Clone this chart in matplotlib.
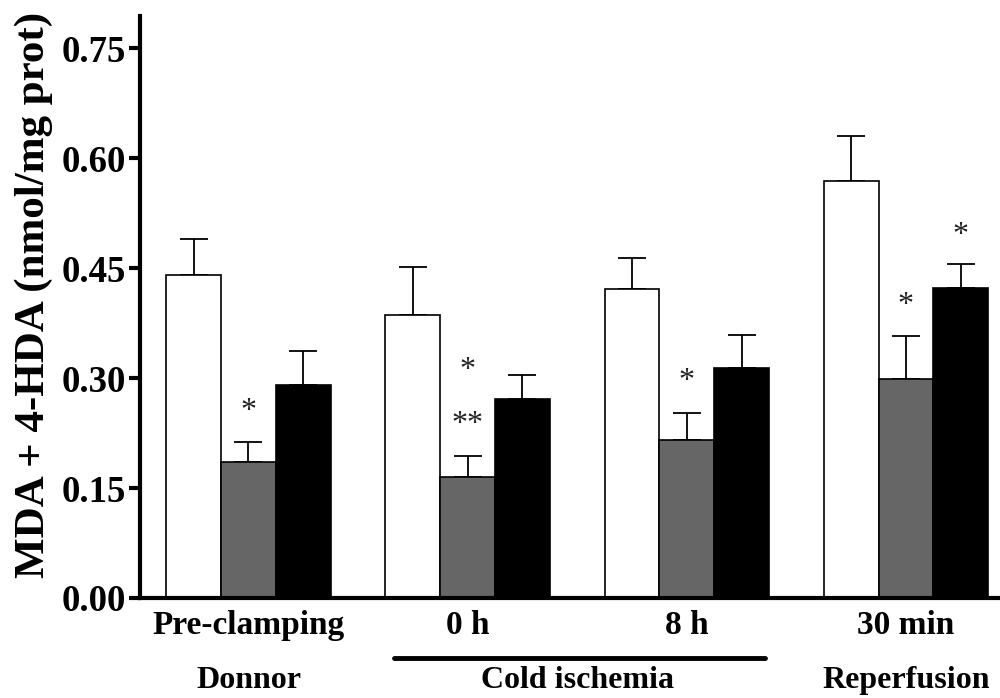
import matplotlib
matplotlib.use('Agg')
import matplotlib.pyplot as plt
import numpy as np

plt.rcParams['font.family'] = ['Liberation Serif', 'DejaVu Serif']

# data
groups = ['Pre-clamping', '0 h', '8 h', '30 min']
white_vals = [0.441, 0.386, 0.422, 0.569]
white_err = [0.049, 0.066, 0.042, 0.061]
gray_vals = [0.186, 0.165, 0.216, 0.298]
gray_err = [0.027, 0.029, 0.036, 0.060]
black_vals = [0.291, 0.272, 0.314, 0.423]
black_err = [0.046, 0.032, 0.045, 0.032]

# significance marks: (series index, group index, y, text)
stars = [(1, 0, 0.254, '*'), (1, 1, 0.310, '*'), (1, 1, 0.237, '**'),
         (1, 2, 0.295, '*'), (1, 3, 0.399, '*'), (2, 3, 0.495, '*')]

phases = ['Donnor', 'Cold ischemia', 'Reperfusion']

fig = plt.figure(figsize=(10, 6.98), dpi=100)
ax = fig.add_axes([0.14, 0.1433, 0.87, 0.834])

base = np.arange(len(groups)) * 4
series = [(white_vals, white_err, 'white'),
          (gray_vals, gray_err, '#666666'),
          (black_vals, black_err, 'black')]

for k, (vals, err, col) in enumerate(series):
    x = base + k
    ax.bar(x, vals, width=1.0, color=col, edgecolor='black', linewidth=1.2, zorder=2)
    ax.errorbar(x, vals, yerr=[np.zeros(len(vals)), err], fmt='none', ecolor='black',
                elinewidth=1.3, capsize=10, capthick=1.3, zorder=1)

for k, g, y, s in stars:
    ax.text(base[g] + k, y, s, ha='center', va='center', fontsize=23, color='#222222')

ax.set_xlim(-0.98, 14.9)
ax.set_ylim(0, 0.794)
ax.set_yticks([0, 0.15, 0.30, 0.45, 0.60, 0.75])
ax.set_yticklabels(['0.00', '0.15', '0.30', '0.45', '0.60', '0.75'],
                   fontsize=26.5, fontweight='bold')
ax.set_xticks(base + 1)
ax.set_xticklabels(groups, fontsize=24, fontweight='bold')
ax.tick_params(axis='x', length=0, pad=9)
ax.tick_params(axis='y', length=8, width=3, pad=2)

for side in ['top', 'right']:
    ax.spines[side].set_visible(False)
ax.spines['left'].set_linewidth(3)
ax.spines['bottom'].set_linewidth(3)

ax.set_ylabel('MDA + 4-HDA (nmol/mg prot)', fontsize=31, fontweight='bold', labelpad=4)
ax.yaxis.set_label_coords(-0.1, 0.52)

trans = ax.get_xaxis_transform()
phase_x = [1, 7, 13]
for px, name in zip(phase_x, phases):
    ax.text(px, -0.142, name, transform=trans, ha='center', va='center',
            fontsize=23, fontweight='bold', clip_on=False)
ax.plot([3.66, 10.43], [-0.103, -0.103], transform=trans, color='black',
        linewidth=3.5, clip_on=False, solid_capstyle='round')

fig.savefig('out.png', dpi=100)
